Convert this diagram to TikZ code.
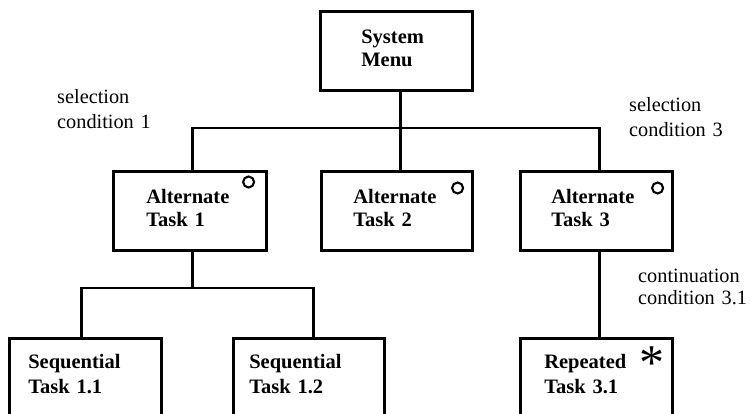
\documentclass[tikz,border=0pt]{standalone}
\usepackage{fontspec}
\setmainfont{Liberation Serif}
\begin{document}
\begin{tikzpicture}[x=1pt,y=-1pt,
  taskbox/.style={draw, line width=2.6pt, rectangle, anchor=north west,
    inner ysep=0pt, align=left,
    font=\bfseries\fontsize{20.5}{23.5}\selectfont},
  upperbox/.style={taskbox, text height=32pt, text depth=47pt},
  lowerbox/.style={taskbox, text height=30pt, text depth=80pt,
    font=\bfseries\fontsize{20.5}{25}\selectfont},
  wire/.style={line width=2.6pt},
  note/.style={anchor=base west, inner sep=0pt, align=left, text width=130pt,
    font=\fontsize{20.3}{25}\selectfont},
  optmark/.style={line width=2.1pt},
]
\useasboundingbox (0,0) rectangle (750,414);
\clip (0,0) rectangle (750,414);

% task boxes
\node[upperbox, inner xsep=41pt, text width=70pt] (sys)  at (319,10)  {System\\Menu};
\node[upperbox, inner xsep=33pt, text width=87pt] (alt1) at (112,170) {Alternate\\Task 1};
\node[upperbox, inner xsep=32pt, text width=87pt] (alt2) at (320,170) {Alternate\\Task 2};
\node[upperbox, inner xsep=31pt, text width=90pt] (alt3) at (519,170) {Alternate\\Task 3};
\node[lowerbox, inner xsep=19pt, text width=114pt] (seq1) at (8,337)   {Sequential\\Task 1.1};
\node[lowerbox, inner xsep=16pt, text width=119pt] (seq2) at (232,337) {Sequential\\Task 1.2};
\node[lowerbox, inner xsep=24pt, text width=104pt] (rep)  at (519,337) {Repeated\\Task 3.1};

% bus levels
\coordinate (topbus) at (0,128);
\coordinate (lowbus) at (0,288);

% menu to alternates
\draw[wire] ([xshift=4pt]sys.south) -- ([xshift=4pt]sys.south |- topbus);
\draw[wire] ([xshift=2.5pt]alt1.north) -- ([xshift=2.5pt]alt1.north |- topbus)
  -| ([xshift=3pt]alt3.north);
\draw[wire] ([xshift=3.5pt]alt2.north) -- ([xshift=3.5pt]alt2.north |- topbus);

% alternate 1 to its sequence
\draw[wire] ([xshift=2.5pt]alt1.south) -- ([xshift=2.5pt]alt1.south |- lowbus);
\draw[wire] ([xshift=-4pt]seq1.north) -- ([xshift=-4pt]seq1.north |- lowbus)
  -| ([xshift=4.5pt]seq2.north);

% alternate 3 to its repetition
\draw[wire] ([xshift=3pt]alt3.south) -- ([xshift=3pt]rep.north);

% selection marks
\draw[optmark] (alt1.north east) ++(-19,12) circle[radius=5.5pt];
\draw[optmark] (alt2.north east) ++(-16,18) circle[radius=5.5pt];
\draw[optmark] (alt3.north east) ++(-16,18) circle[radius=5.5pt];

% iteration mark
\node[anchor=base, inner sep=0pt, font=\fontsize{50}{50}\selectfont] (repmark)
  at ([shift={(-22,42)}]rep.north east) {*};

% conditions
\node[note] (sel1) at (57,104)  {selection\\condition 1};
\node[note] (sel3) at (629,112) {selection\\condition 3};
\node[note, font=\fontsize{20.3}{21.5}\selectfont] (cont) at (638,283) {continuation\\condition 3.1};
\end{tikzpicture}
\end{document}
